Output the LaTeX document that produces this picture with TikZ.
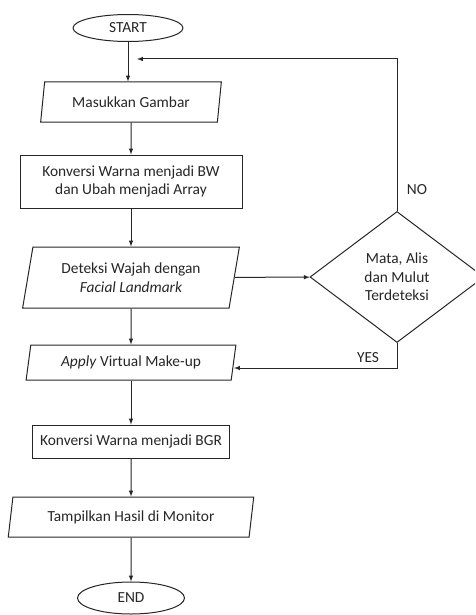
\documentclass[tikz,border=0pt]{standalone}
\usepackage{fontspec}
\setmainfont{Carlito}
\usetikzlibrary{arrows,shapes}
\tikzstyle{terminal}=[ellipse,draw,line width=1pt,inner sep=0pt]
\tikzstyle{process}=[rectangle,draw,line width=1pt,inner sep=0pt,align=center]
\tikzstyle{inout}=[trapezium,trapezium left angle=76,trapezium right angle=104,trapezium stretches=true,draw,line width=1pt,inner sep=0pt,align=center]
\tikzstyle{decision}=[diamond,draw,line width=1pt,inner sep=0pt,align=center]
\tikzstyle{edge} = [draw,line width=1pt,->,>=latex]
\tikzstyle{answer} = [inner sep=0pt]

\begin{document}
\begin{tikzpicture}[x=1pt,y=-1pt,font=\fontsize{15.4}{18.5}\selectfont,color=black!85]

    \useasboundingbox (0,0) rectangle (475,615);
    \clip (0,0) rectangle (475,615);

    \foreach \x/\y/\name/\w/\h/\txt in {128/28/start/110/27/START, 131/598/stop/107/32/END}
        \node[terminal, minimum width=\w pt, minimum height=\h pt] (\name) at (\x,\y) {\txt};

    \foreach \x/\y/\name/\w/\h/\txt in {131/181.5/convbw/222/53/{Konversi Warna menjadi BW\\dan Ubah menjadi Array}, 131/441.5/convbgr/197/33/{Konversi Warna menjadi BGR}}
        \node[process, minimum width=\w pt, minimum height=\h pt] (\name) at (\x,\y) {\txt};

    \foreach \x/\y/\name/\w/\h/\txt in {131/102/input/181/40/{Masukkan Gambar}, 131/277.5/detect/217/61/{Deteksi Wajah dengan\\\textit{Facial Landmark}}, 131/362.5/makeup/210/35/{\textit{Apply} Virtual Make-up}, 131/517/show/246/40/{Tampilkan Hasil di Monitor}}
        \node[inout, minimum width=\w pt, minimum height=\h pt] (\name) at (\x,\y) {\txt};

    \node[decision, minimum width=174pt, minimum height=131pt, aspect=1.33] (check) at (397,277) {Mata, Alis\\dan Mulut\\Terdeteksi};

    \coordinate (join) at (137,59);

    \foreach \source/ \dest in {input/convbw, convbw/detect, detect/makeup, makeup/convbgr, convbgr/show, show/stop}
        \path[edge] (\source) -- (\dest);
    \path[edge] (start.south) -- (start.south |- input.north);
    \path[edge] (detect) -- (check);

    % loop back when nothing is found
    \path[edge] (check.north) |- (join);
    \path[edge] (check.south) |- ([yshift=-5.5pt]makeup.east);

    \node[answer] (no) at (417,190) {NO};
    \node[answer] (yes) at (368,358) {YES};

\end{tikzpicture}
\end{document}
